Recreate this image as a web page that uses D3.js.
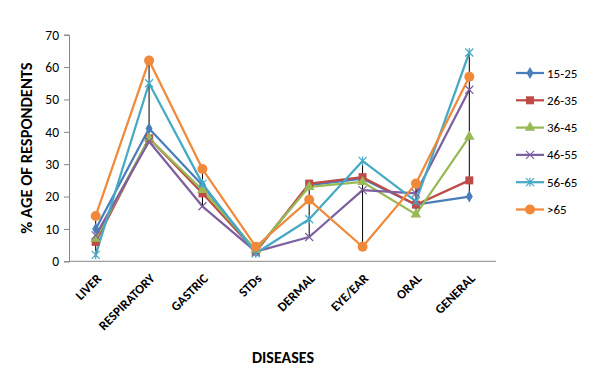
<!DOCTYPE html>
<html>
<head>
<meta charset="utf-8">
<script src="https://cdn.jsdelivr.net/npm/d3@7"></script>
<style>
  body { margin: 0; background: #fff; }
  svg { font-family: Carlito, Lato, "Liberation Sans", sans-serif; }
</style>
</head>
<body>
<div id="chart"></div>
<script>
const diseases = ["LIVER", "RESPIRATORY", "GASTRIC", "STDs", "DERMAL", "EYE/EAR", "ORAL", "GENERAL"];
const groups = ["15-25", "26-35", "36-45", "46-55", "56-65", ">65"];
const colors = ["#4a7ebb", "#be4b48", "#98b954", "#7d60a0", "#46aac5", "#f08a3a"];
const shapes = ["diamond", "square", "triangle", "x", "star", "circle"];

const age15_25 = [10, 41, 23.5, 3, 23.5, 25.5, 17.5, 20];
const age26_35 = [6, 38, 21, 3, 24, 26, 17.5, 25];
const age36_45 = [7, 38, 22, 3.5, 23, 24.5, 14.5, 38.5];
const age46_55 = [8, 37, 17, 3, 7.5, 22, 21, 53];
const age56_65 = [2, 55, 24, 2.5, 13, 31, 18.5, 64.5];
const age65plus = [14, 62, 28.5, 4.5, 19, 4.5, 24, 57];
const seriesValues = [age15_25, age26_35, age36_45, age46_55, age56_65, age65plus];

const yTicks = [0, 10, 20, 30, 40, 50, 60, 70];

const W = 595, H = 376;
const svg = d3.select("#chart").append("svg")
  .attr("width", W).attr("height", H);

const x = d3.scalePoint()
  .domain(diseases)
  .range([69, 496])
  .padding(0.5);
const y = d3.scaleLinear()
  .domain([0, 70])
  .range([261.3, 34.7]);

// y axis
const yAxis = svg.append("g")
  .attr("transform", "translate(69,0)")
  .call(d3.axisLeft(y).tickValues(yTicks).tickSize(5).tickPadding(5));
yAxis.select(".domain").attr("stroke", "#868686");
yAxis.selectAll(".tick line").attr("stroke", "#868686");
yAxis.selectAll(".tick text")
  .attr("font-size", 13.5).attr("fill", "#000")
  .attr("font-family", "Carlito, Lato, 'Liberation Sans', sans-serif");

// x axis baseline
const xAxis = svg.append("g")
  .attr("transform", `translate(0,${y(0)})`)
  .call(d3.axisBottom(x).tickSize(0).tickPadding(0));
xAxis.select(".domain").attr("stroke", "#868686").attr("d", "M69,0H496");
xAxis.selectAll(".tick text")
  .attr("font-size", 13).attr("font-weight", "bold").attr("fill", "#000")
  .attr("font-family", "Carlito, Lato, 'Liberation Sans', sans-serif")
  .attr("text-anchor", "end")
  .attr("dy", null).attr("y", null)
  .attr("transform", "translate(6,18) rotate(-45)");

// lines
const line = d3.line()
  .x((d, i) => x(diseases[i]))
  .y(d => y(d));
seriesValues.forEach((vals, s) => {
  svg.append("path")
    .datum(vals)
    .attr("fill", "none")
    .attr("stroke", colors[s])
    .attr("stroke-width", 2.25)
    .attr("stroke-linejoin", "round")
    .attr("d", line);
});

// high-low lines
diseases.forEach((d, i) => {
  const vals = seriesValues.map(v => v[i]);
  svg.append("line")
    .attr("x1", x(d)).attr("x2", x(d))
    .attr("y1", y(d3.min(vals))).attr("y2", y(d3.max(vals)))
    .attr("stroke", "#000").attr("stroke-width", 1);
});

function drawMarker(g, shape, color, cx, cy) {
  if (shape === "diamond") {
    g.append("path").attr("d", d3.symbol(d3.symbolDiamond, 42)())
      .attr("transform", `translate(${cx},${cy})`).attr("fill", color);
  } else if (shape === "square") {
    g.append("path").attr("d", d3.symbol(d3.symbolSquare, 64)())
      .attr("transform", `translate(${cx},${cy})`).attr("fill", color);
  } else if (shape === "triangle") {
    g.append("path").attr("d", d3.symbol(d3.symbolTriangle, 48)())
      .attr("transform", `translate(${cx},${cy})`).attr("fill", color);
  } else if (shape === "circle") {
    g.append("circle").attr("cx", cx).attr("cy", cy).attr("r", 5)
      .attr("fill", color);
  } else {
    const r = 4;
    let p = `M${-r},${-r}L${r},${r}M${-r},${r}L${r},${-r}`;
    if (shape === "star") p += `M0,${-r - 0.5}L0,${r + 0.5}`;
    g.append("path").attr("d", p)
      .attr("transform", `translate(${cx},${cy})`)
      .attr("stroke", color).attr("stroke-width", 1.2).attr("fill", "none");
  }
}

// markers
seriesValues.forEach((vals, s) => {
  const g = svg.append("g");
  vals.forEach((v, i) => drawMarker(g, shapes[s], colors[s], x(diseases[i]), y(v)));
});

// legend
const legend = svg.append("g").attr("transform", "translate(516,73)");
groups.forEach((name, s) => {
  const row = legend.append("g").attr("transform", `translate(0,${s * 27.3})`);
  row.append("line").attr("x1", 0).attr("x2", 28).attr("y1", 0).attr("y2", 0)
    .attr("stroke", colors[s]).attr("stroke-width", 2.25);
  drawMarker(row, shapes[s], colors[s], 14, 0);
  row.append("text").attr("x", 31).attr("y", 0).attr("dy", "0.35em")
    .attr("font-size", 13).text(name);
});

// axis titles
svg.append("text")
  .attr("transform", "translate(26,148) rotate(-90)")
  .attr("text-anchor", "middle").attr("dy", "0.35em")
  .attr("font-size", 16.5).attr("font-weight", "bold")
  .text("% AGE OF RESPONDENTS");
svg.append("text")
  .attr("x", 283).attr("y", 357).attr("text-anchor", "middle").attr("dy", "0.35em")
  .attr("font-size", 16).attr("font-weight", "bold")
  .text("DISEASES");
</script>
</body>
</html>
